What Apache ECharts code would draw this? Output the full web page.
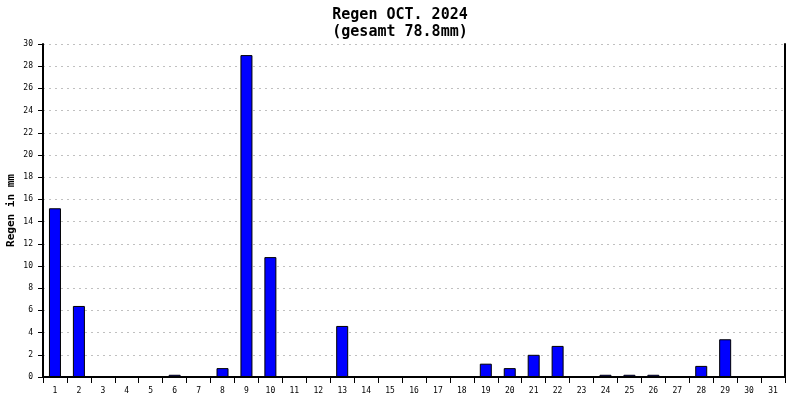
<!DOCTYPE html>
<html>
<head>
<meta charset="utf-8">
<script src="https://cdn.jsdelivr.net/npm/echarts@6/dist/echarts.min.js"></script>
<style>
  html, body { margin: 0; padding: 0; background: #fff; }
  #chart { width: 800px; height: 400px; }
</style>
</head>
<body>
<div id="chart"></div>
<script>
var days = ['1', '2', '3', '4', '5', '6', '7', '8', '9', '10', '11', '12', '13', '14', '15', '16',
    '17', '18', '19', '20', '21', '22', '23', '24', '25', '26', '27', '28', '29', '30', '31'];
var rain = [15.2, 6.4, 0, 0, 0, 0.2, 0, 0.8, 29.0, 10.8, 0, 0, 4.6, 0, 0, 0,
    0, 0, 1.2, 0.8, 2.0, 2.8, 0, 0.2, 0.2, 0.2, 0, 1.0, 3.4, 0, 0];
var titleText = 'Regen OCT. 2024\n(gesamt 78.8mm)';
var yName = 'Regen in mm';

var monoFont = '"DejaVu Sans Mono", "Liberation Mono", monospace';

var myChart = echarts.init(document.getElementById('chart'));

var option = {
    backgroundColor: '#ffffff',
    animation: false,
    title: {
        text: titleText,
        left: 'center',
        top: 2,
        textStyle: {
            fontFamily: monoFont,
            fontSize: 15,
            fontWeight: 'bold',
            color: '#000',
            lineHeight: 17
        }
    },
    grid: {
        left: 43,
        right: 15,
        top: 44,
        bottom: 23,
        containLabel: false,
        outerBoundsMode: 'none'
    },
    xAxis: {
        type: 'category',
        data: days,
        boundaryGap: true,
        axisLine: { lineStyle: { color: '#000', width: 2 } },
        axisTick: {
            show: true,
            length: 6,
            lineStyle: { color: '#000', width: 1 }
        },
        axisLabel: {
            interval: 0,
            fontFamily: monoFont,
            fontSize: 8,
            color: '#000',
            margin: 10
        }
    },
    yAxis: [{
        type: 'value',
        min: 0,
        max: 30,
        interval: 2,
        name: yName,
        nameLocation: 'middle',
        nameGap: 26,
        nameMoveOverlap: false,
        nameTextStyle: {
            fontFamily: monoFont,
            fontSize: 11,
            fontWeight: 'bold',
            color: '#000'
        },
        axisLine: { show: true, lineStyle: { color: '#000', width: 2 } },
        axisTick: { show: true, length: 5, lineStyle: { color: '#000' } },
        axisLabel: {
            fontFamily: monoFont,
            fontSize: 8,
            color: '#000',
            margin: 10
        },
        splitLine: {
            show: true,
            lineStyle: { color: '#c0c0c0', type: [2, 4], width: 1 }
        }
    }, {
        // right frame line only
        type: 'value',
        min: 0,
        max: 30,
        interval: 2,
        position: 'right',
        axisLine: { show: true, lineStyle: { color: '#000', width: 2 } },
        axisTick: { show: false },
        axisLabel: { show: false },
        splitLine: { show: false }
    }],
    series: [{
        type: 'bar',
        data: rain,
        barWidth: 12,
        itemStyle: {
            color: '#0000ff',
            borderColor: '#000',
            borderWidth: 1
        }
    }]
};

myChart.setOption(option, true);
</script>
</body>
</html>
